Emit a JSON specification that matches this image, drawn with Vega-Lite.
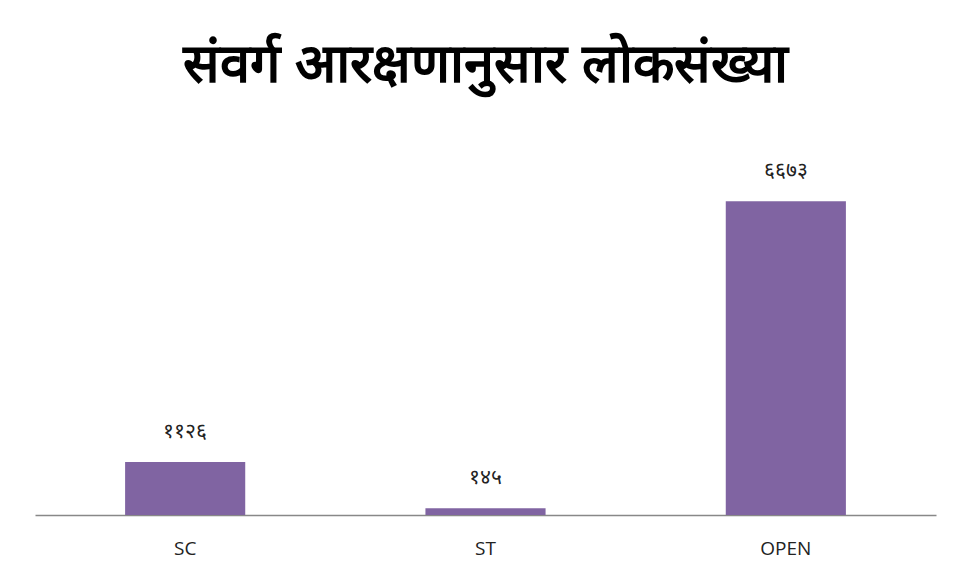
{
  "$schema": "https://vega.github.io/schema/vega-lite/v6.json",
  "autosize": "none",
  "width": 901,
  "height": 376,
  "padding": {"left": 35, "top": 139, "right": 25, "bottom": 64},
  "background": "white",
  "title": {
    "text": "संवर्ग आरक्षणानुसार लोकसंख्या",
    "fontSize": 54,
    "fontWeight": "bold",
    "color": "black",
    "anchor": "middle",
    "baseline": "bottom",
    "offset": -8
  },
  "data": {
    "values": [
      {"category": "SC", "value": 1126, "label": "११२६"},
      {"category": "ST", "value": 145, "label": "१४५"},
      {"category": "OPEN", "value": 6673, "label": "६६७३"}
    ]
  },
  "encoding": {
    "x": {
      "field": "category",
      "type": "nominal",
      "sort": null,
      "scale": {"paddingInner": 0.6, "paddingOuter": 0.3},
      "axis": {
        "title": null,
        "labelAngle": 0,
        "ticks": false,
        "domainColor": "#888888",
        "domainWidth": 1.5,
        "labelFontSize": 19,
        "labelColor": "#222222",
        "labelFont": "Open Sans",
        "labelPadding": 24
      }
    },
    "y": {
      "field": "value",
      "type": "quantitative",
      "scale": {"domain": [0, 8000], "nice": false},
      "axis": null
    }
  },
  "layer": [
    {"mark": {"type": "bar", "color": "#8064A2"}},
    {
      "mark": {"type": "text", "dy": -20, "baseline": "bottom", "fontSize": 21, "color": "#222222"},
      "encoding": {"text": {"field": "label"}}
    }
  ],
  "config": {"view": {"stroke": null}}
}
